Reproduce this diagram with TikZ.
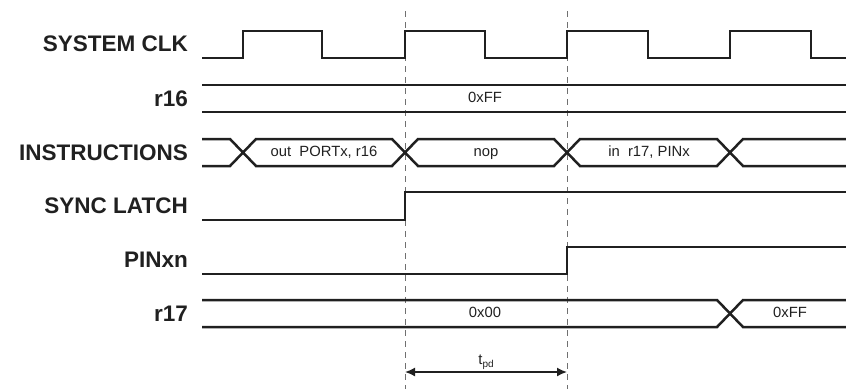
\documentclass[tikz,border=0pt]{standalone}
\usepackage{fontspec}
\setmainfont{Liberation Sans}
\usetikzlibrary{arrows.meta,positioning,calc}
\definecolor{WaveBlack}{HTML}{202020}
\definecolor{GuideGray}{HTML}{707070}

\begin{document}
\begin{tikzpicture}[x=1pt,y=-1pt,>={Latex[length=10pt,width=9pt]},
 signame/.style={anchor=east,inner sep=0pt,text=WaveBlack,
                 font=\bfseries\fontsize{22.5}{24}\selectfont},
 wave/.style={draw=WaveBlack,line width=2.5pt,line join=miter},
 busval/.style={inner sep=0pt,text=WaveBlack,text height=10.6pt,text depth=3pt,
                font=\fontsize{14.8}{16}\selectfont},
 guide/.style={draw=GuideGray,line width=1pt,dash pattern=on 6pt off 5pt},
 span/.style={draw=WaveBlack,line width=1.6pt}]
\useasboundingbox (0,0) rectangle (846,389);
% signal names
\node[signame] (clk)   at (188,44)    {SYSTEM CLK};
\node[signame] (r16)   at (188,98.5)  {r16};
\node[signame] (instr) at (188,152.5) {INSTRUCTIONS};
\node[signame] (sync)  at (188,206)   {SYNC LATCH};
\node[signame] (pinxn) at (188,260)   {PINxn};
\node[signame] (r17)   at (188,313.5) {r17};
% guides
\coordinate (g1top) at (405,11);  \coordinate (g1bot) at (405,389);
\coordinate (g2top) at (567,11);  \coordinate (g2bot) at (567,389);
\draw[guide] (g1top)--(g1bot);
\draw[guide] (g2top)--(g2bot);
% clock
\draw[wave] (202,58)--(243,58)--(243,31)--(322,31)--(322,58)--(405,58)--(405,31)
  --(485,31)--(485,58)--(567,58)--(567,31)--(648,31)--(648,58)--(730,58)
  --(730,31)--(811,31)--(811,58)--(846,58);
% r16
\draw[wave] (202,85)--(846,85);
\draw[wave] (202,112)--(846,112);
\node[busval] (r16val) at (485,98.5) {0xFF};
% instructions
\draw[wave] (202,139)--(230,139)--(243,152.5)--(230,166)--(202,166);
\draw[wave] (243,152.5)--(256,139)--(392,139)--(405,152.5)--(392,166)--(256,166)--cycle;
\draw[wave] (405,152.5)--(418,139)--(554,139)--(567,152.5)--(554,166)--(418,166)--cycle;
\draw[wave] (567,152.5)--(580,139)--(717,139)--(730,152.5)--(717,166)--(580,166)--cycle;
\draw[wave] (846,139)--(743,139)--(730,152.5)--(743,166)--(846,166);
\node[busval] (iout) at (324,152.5) {out\ \ PORTx, r16};
\node[busval] (inop) at (486,152.5) {nop};
\node[busval] (iin)  at (649,152.5) {in\ \ r17, PINx};
% sync latch
\draw[wave] (202,220)--(405,220)--(405,192)--(846,192);
% PINxn
\draw[wave] (202,274)--(567,274)--(567,247)--(846,247);
% r17
\draw[wave] (202,300)--(717,300)--(743,327)--(846,327);
\draw[wave] (202,327)--(717,327)--(743,300)--(846,300);
\node[busval] (r17old) at (485,313.5) {0x00};
\node[busval] (r17new) at (790,313.5) {0xFF};
% propagation delay
\coordinate (tpdL) at (405,372);
\coordinate (tpdR) at (567,372);
\draw[span,<->] (tpdL)--(tpdR)
  node[midway,above=4pt,busval] (tpd) {t\raisebox{-0.45ex}{\fontsize{10}{11}\selectfont pd}};
\end{tikzpicture}
\end{document}
